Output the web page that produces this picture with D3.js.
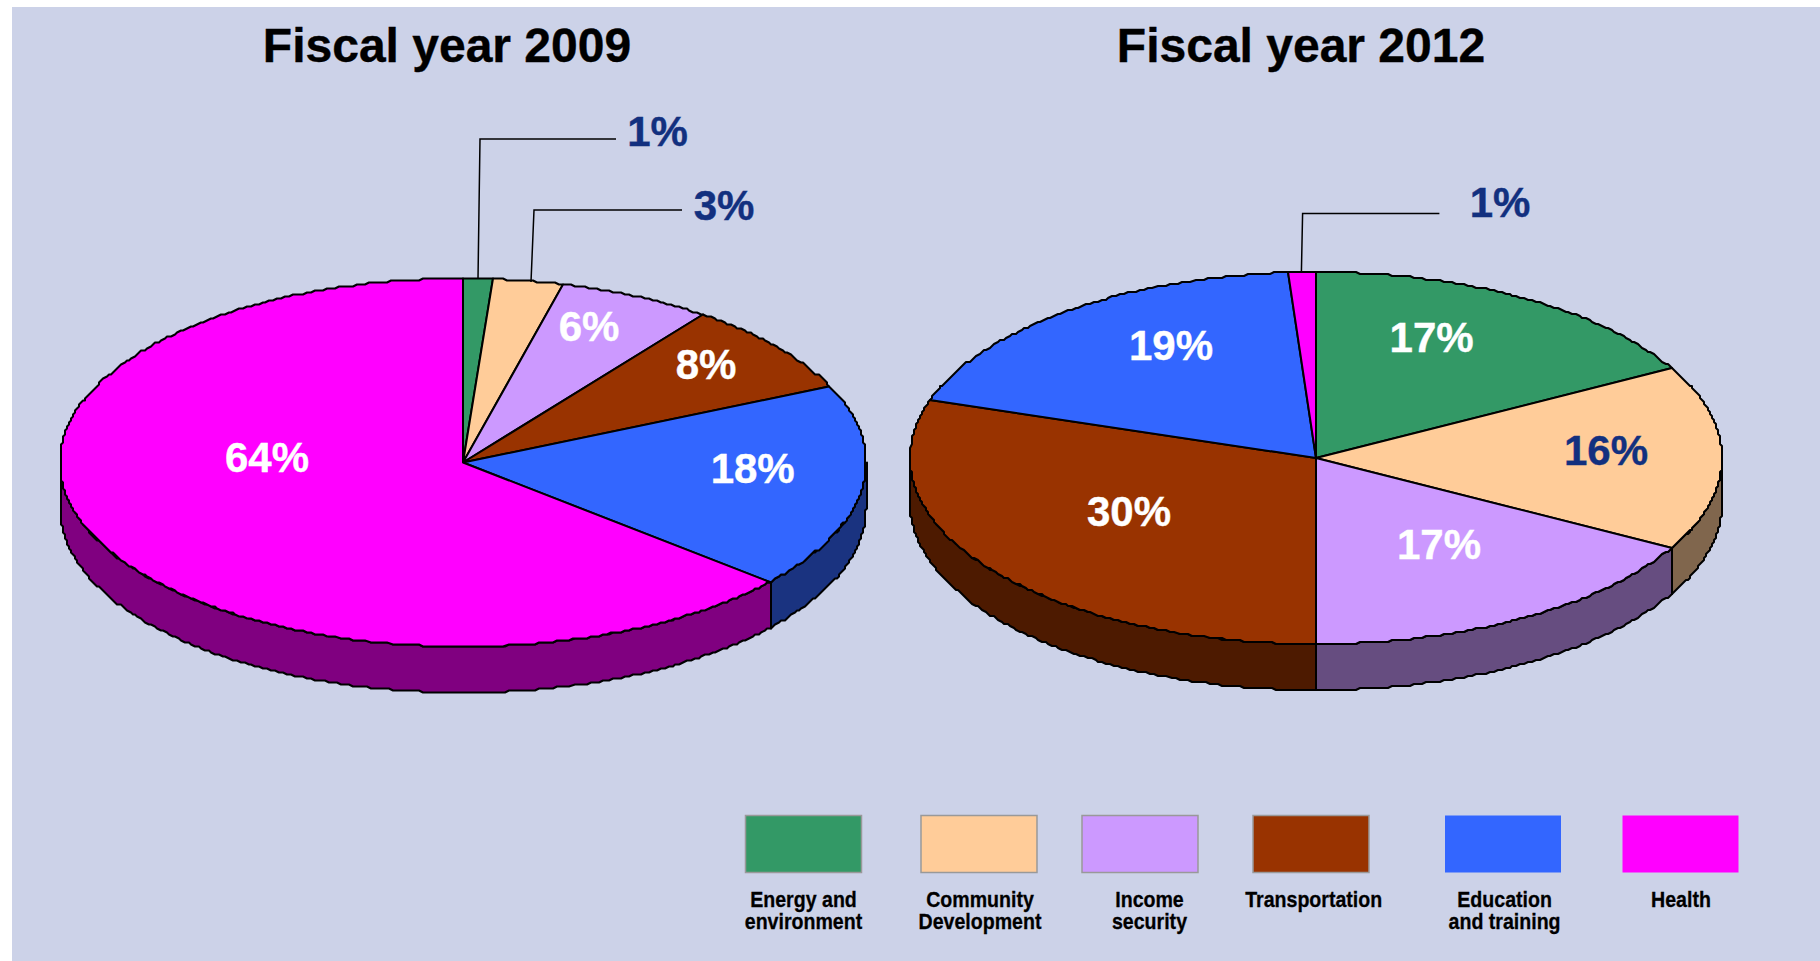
<!DOCTYPE html>
<html>
<head>
<meta charset="utf-8">
<title>Fiscal year 2009 and 2012</title>
<script src="https://cdn.jsdelivr.net/npm/d3@7"></script>
<style>
    html, body { margin: 0; padding: 0; background: #ffffff; }
    svg { display: block; }
    text { font-family: "Liberation Sans", Arial, sans-serif; font-weight: bold; }
</style>
</head>
<body>
<svg id="chart"></svg>
<script>
// chart data, slice sizes, labels are the rounded values
var categories = ["Energy and environment", "Community Development", "Income security", "Transportation", "Education and training", "Health"];
var legendLines = [["Energy and", "environment"], ["Community", "Development"], ["Income", "security"], ["Transportation"], ["Education", "and training"], ["Health"]];
var titles = ["Fiscal year 2009", "Fiscal year 2012"];
var values2009 = [1.2, 2.8, 6.2, 8, 18, 63.8];
var values2012 = [17, 16, 17, 30, 18.9, 1.1];

// colors
var colors = ["#339966", "#FFCC99", "#CC99FF", "#993300", "#3366FF", "#FF00FF"];
var background = "#CCD2E8";
var calloutBlue = "#12307F";

var width = 1820,
    height = 961;

// layout of each pie, in page pixels
var layout2009 = {
    cx: 463, cy: 462.5, rx: 403, ry: 184, depth: 46, titleX: 447,
    labels: [[657.6, 145.5], [724, 220], [589, 340.7], [706, 379], [752.7, 483], [267, 472]],
    labelColors: [calloutBlue, calloutBlue, "#fff", "#fff", "#fff", "#fff"],
    leaders: [[[478, 279], [480, 139], [616, 139]], [[531, 282], [534, 210], [682, 210]]]
};
var layout2012 = {
    cx: 1316, cy: 458, rx: 406, ry: 186, depth: 46, titleX: 1301,
    labels: [[1431.6, 352], [1606, 465], [1439, 559], [1129, 525.7], [1171, 359.5], [1500, 216.7]],
    labelColors: ["#fff", calloutBlue, "#fff", "#fff", "#fff", calloutBlue],
    leaders: [[[1301.4, 272], [1302.6, 213.5], [1439.4, 213.5]]]
};

// legend swatch spans and label centers
var swatchX = [745.5, 921, 1082, 1253, 1445, 1622.5];
var legendTextX = [803.5, 980, 1149.5, 1313.7, 1504.6, 1681];

var svg = d3.select("#chart")
    .attr("width", width)
    .attr("height", height)
    .attr("viewBox", [0, 0, width, height]);

svg.append("rect")
    .attr("x", 12)
    .attr("y", 7)
    .attr("width", width - 12)
    .attr("height", height - 7)
    .attr("fill", background);

var pie = d3.pie().sort(null).value(function (d) { return d; });
var line = d3.line();

//the original outline is stair stepped, so snap the rim offsets to a coarse grid
var snap = function (v) { return Math.round(v / 2) * 2; };

function rim(p, angle, drop) {
    return [p.cx + snap(p.rx * Math.sin(angle)), p.cy - snap(p.ry * Math.cos(angle)) + drop];
}

function rimPoints(p, a0, a1, drop) {
    var n = Math.max(2, Math.ceil((a1 - a0) * 90));
    return d3.range(n + 1).map(function (i) {
        return rim(p, a0 + (a1 - a0) * i / n, drop);
    });
}

// side wall is the slice color at half brightness
function shade(c) {
    var r = d3.rgb(c);
    return d3.rgb(r.r / 2, r.g / 2, r.b / 2).toString();
}

function drawPie(values, p, title) {
    var g = svg.append("g");
    var arcs = pie(values);

    g.append("text")
        .attr("x", p.titleX)
        .attr("y", 62)
        .attr("text-anchor", "middle")
        .attr("font-size", 48)
        .attr("fill", "#000")
        .attr("stroke", "#000")
        .attr("stroke-width", 0.4)
        .text(title);

    // side wall, only the front half of the disc can be seen
    arcs.forEach(function (d, i) {
        var a0 = Math.max(d.startAngle, Math.PI / 2),
            a1 = Math.min(d.endAngle, Math.PI * 1.5);
        if (a1 <= a0) return;
        var top = rimPoints(p, a0, a1, 0);
        var bottom = rimPoints(p, a0, a1, p.depth).reverse();
        g.append("path")
            .attr("d", line(top.concat(bottom)) + "Z")
            .attr("fill", shade(colors[i]))
            .attr("stroke", "#000")
            .attr("stroke-width", 2)
            .attr("stroke-linejoin", "round");
    });

    // top face
    arcs.forEach(function (d, i) {
        var pts = [[p.cx, p.cy]].concat(rimPoints(p, d.startAngle, d.endAngle, 0));
        g.append("path")
            .attr("d", line(pts) + "Z")
            .attr("fill", colors[i])
            .attr("stroke", "#000")
            .attr("stroke-width", 2)
            .attr("stroke-linejoin", "round");
    });

    // leader lines for the small slices
    p.leaders.forEach(function (l) {
        g.append("path")
            .attr("d", line(l))
            .attr("fill", "none")
            .attr("stroke", "#000")
            .attr("stroke-width", 1.5);
    });

    // percent labels
    g.selectAll(".pct")
        .data(values)
        .enter()
        .append("text")
        .attr("class", "pct")
        .attr("x", function (d, i) { return p.labels[i][0]; })
        .attr("y", function (d, i) { return p.labels[i][1]; })
        .attr("text-anchor", "middle")
        .attr("font-size", 42)
        .attr("fill", function (d, i) { return p.labelColors[i]; })
        .attr("stroke", function (d, i) { return p.labelColors[i]; })
        .attr("stroke-width", 0.4)
        .text(function (d) { return Math.round(d) + "%"; });
}

drawPie(values2009, layout2009, titles[0]);
drawPie(values2012, layout2012, titles[1]);

// legend
var legend = svg.append("g").attr("id", "legend");

legend.selectAll("rect")
    .data(categories)
    .enter()
    .append("rect")
    .attr("x", function (d, i) { return swatchX[i]; })
    .attr("y", 815.5)
    .attr("width", 116)
    .attr("height", 57)
    .attr("fill", function (d, i) { return colors[i]; })
    .attr("stroke", function (d, i) { return i < 4 ? "#999" : "none"; })
    .attr("stroke-width", 1.5);

legendLines.forEach(function (lines, i) {
    lines.forEach(function (t, j) {
        legend.append("text")
            .attr("transform", "translate(" + legendTextX[i] + "," + (906.7 + j * 22.6) + ") scale(0.87,1)")
            .attr("text-anchor", "middle")
            .attr("font-size", 22.5)
            .attr("fill", "#000")
            .attr("stroke", "#000")
            .attr("stroke-width", 0.3)
            .text(t);
    });
});
</script>
</body>
</html>
